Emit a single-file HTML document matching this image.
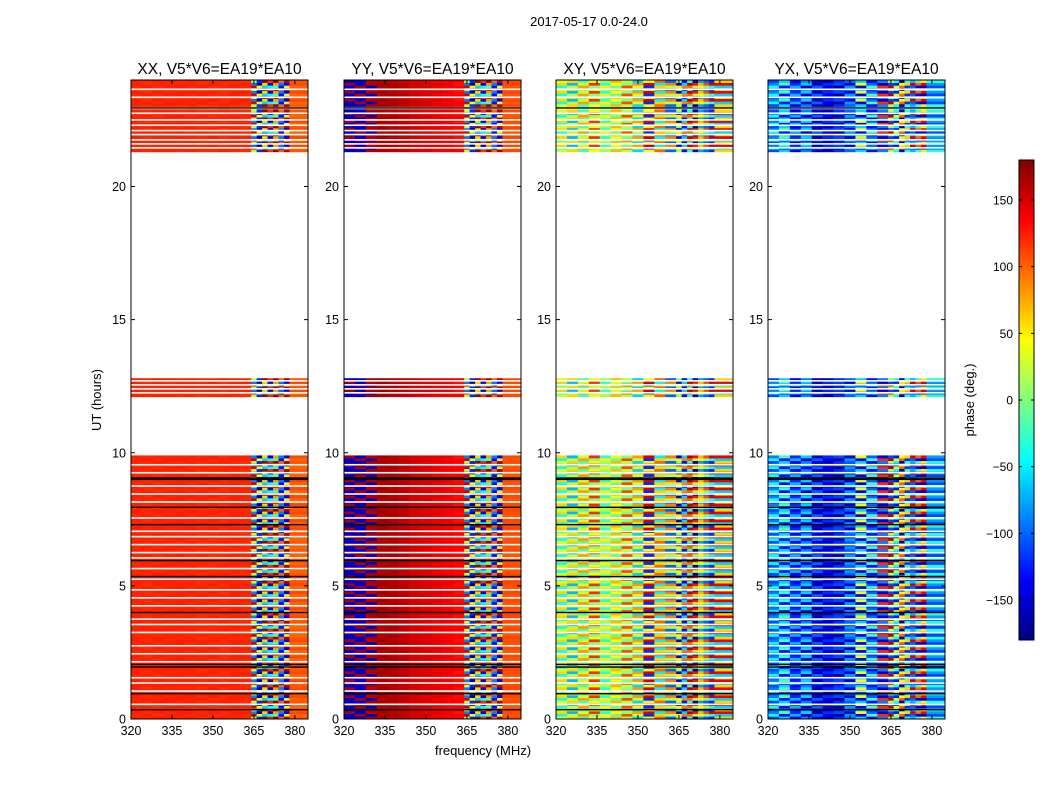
<!DOCTYPE html>
<html><head><meta charset="utf-8"><style>
html,body{margin:0;padding:0;background:#fff;width:1050px;height:800px;overflow:hidden}
svg{display:block;font-family:"Liberation Sans","DejaVu Sans",sans-serif}
</style></head><body>
<svg id="fig" width="1050" height="800" viewBox="0 0 1050 800" xmlns="http://www.w3.org/2000/svg">
<text x="589" y="26" font-size="13" text-anchor="middle">2017-05-17 0.0-24.0</text>
<text x="101" y="400" font-size="13" text-anchor="middle" transform="rotate(-90 101 400)">UT (hours)</text>
<text x="483" y="755" font-size="13" text-anchor="middle">frequency (MHz)</text>
<text x="974" y="400" font-size="13" text-anchor="middle" transform="rotate(-90 974 400)">phase (deg.)</text>
<g id="panels"></g>
<g id="cbar"></g>
</svg>
<script>
const panelTitles = ["XX, V5*V6=EA19*EA10","YY, V5*V6=EA19*EA10","XY, V5*V6=EA19*EA10","YX, V5*V6=EA19*EA10"];
const xTicks = [320,335,350,365,380];
const yTicks = [0,5,10,15,20];
const cbTicks = [150,100,50,0,-50,-100,-150];
const freqEdges = [320,324,328,332,336,340,344,348,352,356,360,364,366,368,370,372,374,376,378,384.8];
const segments = [[0,9.9],[12.1,12.8],[21.3,22.9],[23.0,24]];
const whiteLines = [0.55,1.05,1.35,1.55,2.15,2.45,2.75,3.25,3.55,3.75,4.25,4.55,4.85,5.25,5.65,6.05,6.25,6.55,6.85,7.05,7.55,8.15,8.45,8.75,9.25,9.55,12.25,12.4,12.55,12.7,21.45,21.6,21.75,21.95,22.1,22.3,22.5,22.75,23.35,23.65];
const blackLines = [0.35,0.95,1.95,2.05,4.0,5.35,5.95,7.3,7.95,9.0,9.05,22.95];
const xxA = [124,122,126,124,122,124,120,122,124,122,120,150,-120,60,-40,170,-90,30,105];
const xxB = [122,124,120,124,126,122,124,120,122,124,122,-90,40,170,-150,-20,100,-140,100];
const xxC = [124,120,124,122,124,124,122,126,120,124,124,20,-170,-60,120,80,-130,160,110];
const yyA = [-160,-150,165,165,160,155,150,145,140,140,135,150,-120,60,-40,170,-90,30,110];
const yyB = [-150,165,-160,160,165,160,150,150,140,135,135,-90,40,170,-150,-20,100,-140,105];
const yyC = [165,-155,160,170,160,155,150,145,145,140,130,20,-170,-60,120,80,-130,160,110];
const xyA = [30,60,-20,40,10,70,20,-60,40,100,-100,50,-130,160,20,-80,110,-30,60];
const xyB = [-40,20,80,0,50,-10,110,30,-120,60,20,-150,90,-30,130,40,-100,150,-60];
const xyC = [60,-70,30,120,-30,40,0,80,150,-50,90,10,-60,100,-170,70,0,-120,140];
const yxA = [-110,-60,-140,-90,-150,-160,-120,-100,-60,-130,-90,160,-40,40,-120,-70,100,-150,-30];
const yxB = [-40,-130,-70,-150,-100,-140,-170,-80,-140,-20,120,-110,30,-160,60,-100,-20,140,-110];
const yxC = [-90,-20,-120,-60,-160,-120,-110,-150,40,-100,-150,20,-130,100,-30,150,-140,50,-80];
const panelPhases = [[xxA,xxB,xxC],[yyA,yyB,yyC],[xyA,xyB,xyC],[yxA,yxB,yxC]];
const rowStep = 0.1;

const NS="http://www.w3.org/2000/svg";
const panelX=[131,344,556,768], PW=177, PT=80, PB=719;
function mk(tag,attrs,parent){const e=document.createElementNS(NS,tag);for(const k in attrs)e.setAttribute(k,attrs[k]);parent.appendChild(e);return e;}
function jet(v){const t=(v+180)/360;const c=x=>Math.round(255*Math.max(0,Math.min(1,x)));
 return `rgb(${c(1.5-Math.abs(4*t-3))},${c(1.5-Math.abs(4*t-2))},${c(1.5-Math.abs(4*t-1))})`;}
const yScale=h=>PB-(h/24)*(PB-PT);
const cbY=v=>400-v*480/360;
const G=document.getElementById('panels');
panelTitles.forEach((title,p)=>{
 const x0=panelX[p];
 const xScale=f=>x0+(f-320)/(384.8-320)*PW;
 const g=mk('g',{},G);
 
 
 const hm=mk('g',{},g);
 
 
 const ph=panelPhases[p];
 segments.forEach(seg=>{
  let r=0;
  for(let h=seg[0];h<seg[1]-1e-6;h+=rowStep,r++){
   const h2=Math.min(h+rowStep,seg[1]);
   const y1=yScale(h2),y2=yScale(h);
   for(let c=0;c<freqEdges.length-1;c++){
    const arr=ph[(r+(c>10?c:0))%3];
    const rc=mk('rect',{x:xScale(freqEdges[c]),y:y1,width:xScale(freqEdges[c+1])-xScale(freqEdges[c])+0.3,height:y2-y1+0.3,fill:jet(arr[c])},hm);
    
    
   }
  }
 });
 whiteLines.forEach(h=>{const l=mk('rect',{x:x0,y:yScale(h)-0.8,width:PW,height:1.6,fill:'#fff'},hm);
  
  });
 blackLines.forEach(h=>{const l=mk('rect',{x:x0,y:yScale(h)-0.7,width:PW,height:1.4,fill:'#000'},hm);
  
  });
 const fr=mk('rect',{x:x0,y:PT,width:PW,height:PB-PT,fill:'none',stroke:'#000','stroke-width':1},g);
 
 
 const t=mk('text',{x:x0+PW/2,y:74,'font-size':15.5,'text-anchor':'middle'},g);t.textContent=title;
 
 
 xTicks.forEach(f=>{const x=xScale(f);
  mk('line',{x1:x,x2:x,y1:PB,y2:PB-4,stroke:'#000'},g);mk('line',{x1:x,x2:x,y1:PT,y2:PT+4,stroke:'#000'},g);
  const tl=mk('text',{x:x,y:PB+16,'font-size':12.5,'text-anchor':'middle'},g);tl.textContent=f;
  
  });
 yTicks.forEach(h=>{const y=yScale(h);
  mk('line',{x1:x0,x2:x0+4,y1:y,y2:y,stroke:'#000'},g);mk('line',{x1:x0+PW,x2:x0+PW-4,y1:y,y2:y,stroke:'#000'},g);
  const tl=mk('text',{x:x0-5,y:y+4.5,'font-size':12.5,'text-anchor':'end'},g);tl.textContent=h;
  
  });
});
// colorbar
const CB=document.getElementById('cbar');


for(let v=-180;v<180;v+=2){mk('rect',{x:1019,y:cbY(v+2),width:15,height:480/180+0.3,fill:jet(v+1)},CB);}
mk('rect',{x:1019,y:160,width:15,height:480,fill:'none',stroke:'#000','stroke-width':1},CB);
cbTicks.forEach(v=>{const y=cbY(v);
 mk('line',{x1:1019,x2:1022,y1:y,y2:y,stroke:'#000'},CB);mk('line',{x1:1034,x2:1031,y1:y,y2:y,stroke:'#000'},CB);
 const tl=mk('text',{x:1013,y:y+4.5,'font-size':12,'text-anchor':'end'},CB);tl.textContent=v<0?'\u2212'+(-v):v;
 
 });
</script>
</body></html>
